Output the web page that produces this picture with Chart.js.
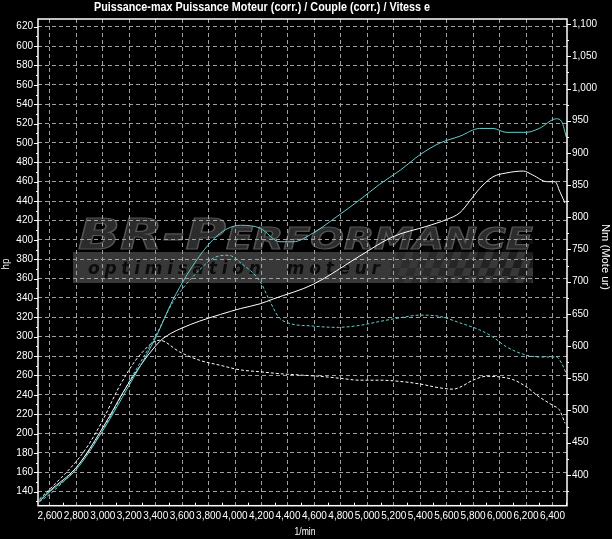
<!DOCTYPE html>
<html>
<head>
<meta charset="utf-8">
<title>Puissance / Couple</title>
<script src="https://cdn.jsdelivr.net/npm/chart.js@4.4.0/dist/chart.umd.min.js"></script>
<style>
  html, body { margin: 0; padding: 0; background: #000; }
  canvas { display: block; }
</style>
</head>
<body>
<canvas id="dynoCanvas" width="612" height="539"></canvas>
<script>
// puissance (hp) apres optimisation - cyan plein
var tunedPowerRpm = [2520, 2600, 2800, 3000, 3200, 3400, 3530, 3730, 3890, 4040, 4190, 4340, 4440, 4590, 4770, 4940, 5090, 5250, 5400, 5550, 5700, 5850, 5950, 6050, 6200, 6300, 6430, 6470, 6505];
var tunedPowerHp  = [130, 140, 163, 203, 250, 299, 338, 383, 407, 415, 412, 398, 398, 407, 424, 441, 457, 472, 488, 500, 507, 515, 515, 511, 511, 515, 525, 522, 506];

// puissance (hp) origine - blanc plein
var stockPowerRpm = [2520, 2600, 2800, 3000, 3200, 3430, 3510, 3600, 3730, 3890, 4040, 4190, 4290, 4590, 4940, 5190, 5450, 5600, 5700, 5780, 5850, 5950, 6050, 6180, 6250, 6360, 6420, 6455, 6495];
var stockPowerHp  = [130, 141, 165, 206, 253, 295, 303, 309, 316, 323, 329, 334, 339, 354, 383, 403, 414, 421, 428, 441, 453, 465, 469, 471, 467, 460, 460, 450, 438];

// couple (Nm) apres optimisation - cyan pointille
var tunedTorqueRpm = [2520, 2600, 2800, 3000, 3200, 3400, 3530, 3730, 3850, 3950, 4050, 4190, 4260, 4330, 4400, 4590, 4770, 4940, 5090, 5250, 5400, 5550, 5700, 5850, 5950, 6050, 6200, 6300, 6430, 6470, 6505];
var tunedTorqueNm  = [358, 370, 411, 470, 545, 616, 668, 718, 738, 741, 728, 700, 671, 645, 636, 631, 629, 632, 638, 644, 648, 646, 636, 625, 614, 599, 586, 583, 583, 573, 557];

// couple (Nm) origine - blanc pointille
var stockTorqueRpm = [2520, 2600, 2800, 2890, 3000, 3130, 3280, 3430, 3580, 3730, 3890, 4040, 4190, 4340, 4490, 4640, 4790, 4940, 5090, 5250, 5400, 5550, 5650, 5700, 5800, 5900, 6000, 6100, 6200, 6300, 6400, 6455, 6495];
var stockTorqueNm  = [362, 378, 421, 446, 485, 539, 586, 609, 591, 578, 570, 563, 560, 557, 555, 553, 550, 547, 547, 545, 541, 535, 533, 536, 547, 553, 552, 548, 537, 521, 508, 500, 480];

// graduations
var rpmTicks = [2600, 2800, 3000, 3200, 3400, 3600, 3800, 4000, 4200, 4400, 4600, 4800, 5000, 5200, 5400, 5600, 5800, 6000, 6200, 6400];
var hpTicks = [140, 160, 180, 200, 220, 240, 260, 280, 300, 320, 340, 360, 380, 400, 420, 440, 460, 480, 500, 520, 540, 560, 580, 600, 620];
var nmTicks = [400, 450, 500, 550, 600, 650, 700, 750, 800, 850, 900, 950, 1000, 1050, 1100];

var titleText = 'Puissance-max Puissance Moteur (corr.) / Couple (corr.) / Vitess e';
var tickFont = { family: '"Liberation Sans", Arial, sans-serif', size: 10 };

function toPoints(xs, ys) {
    return xs.map(function (x, i) { return { x: x, y: ys[i] }; });
}

function fmt(v) {
    return Number(v).toLocaleString('en-US');
}

// texte etire a une largeur donnee
function fitText(ctx, text, x, y, width, font, angle) {
    ctx.save();
    ctx.font = font;
    var w = ctx.measureText(text).width;
    ctx.translate(x, y);
    if (angle) ctx.rotate(angle);
    ctx.scale(width / w, 1);
    ctx.textAlign = 'center';
    ctx.fillText(text, 0, 0);
    ctx.restore();
}

// logo en filigrane
function drawLogo(ctx) {
    ctx.save();
    ctx.fillStyle = '#383838';
    ctx.fillRect(73, 252, 460, 31);

    // damier
    ctx.save();
    ctx.beginPath();
    ctx.rect(390, 236, 143, 47);
    ctx.clip();
    ctx.transform(1, 0, -0.35, 1, 0, 0);
    for (var r = 0; r < 6; r++) {
        for (var c = 0; c < 22; c++) {
            if ((r + c) % 2 === 0) {
                ctx.fillStyle = 'rgba(20,20,20,' + (0.2 + c * 0.03) + ')';
                ctx.fillRect(470 + c * 8, 236 + r * 8, 8, 8);
            }
        }
    }
    ctx.restore();

    // BR-Performance
    ctx.save();
    ctx.font = 'italic bold 42px "DejaVu Sans", sans-serif';
    var big = 'BR-P';
    var wBig = ctx.measureText(big).width;
    ctx.font = 'italic bold 30px "DejaVu Sans", sans-serif';
    var small = 'ERFORMANCE';
    var wSmall = ctx.measureText(small).width;
    var sx = 455 / (wBig + wSmall);
    ctx.translate(78, 249);
    ctx.scale(sx, 1);
    ctx.fillStyle = '#2c2c2c';
    ctx.strokeStyle = '#555555';
    ctx.lineWidth = 1.2;
    ctx.font = 'italic bold 42px "DejaVu Sans", sans-serif';
    ctx.fillText(big, 0, 0);
    ctx.strokeText(big, 0, 0);
    ctx.font = 'italic bold 30px "DejaVu Sans", sans-serif';
    ctx.fillText(small, wBig, 0);
    ctx.strokeText(small, wBig, 0);
    ctx.restore();

    // optimisation moteur
    ctx.font = 'italic bold 17px "DejaVu Sans", sans-serif';
    ctx.fillStyle = '#0c0c0c';
    var txt = 'optimisation  moteur';
    var total = 0;
    for (var i = 0; i < txt.length; i++) total += ctx.measureText(txt[i]).width;
    var gap = (292 - total) / (txt.length - 1);
    var px = 88;
    for (var j = 0; j < txt.length; j++) {
        ctx.fillText(txt[j], px, 274);
        px += ctx.measureText(txt[j]).width + gap;
    }
    ctx.restore();
}

var dynoPlugin = {
    id: 'dyno',
    beforeDraw: function (chart) {
        var ctx = chart.ctx;
        ctx.save();
        ctx.fillStyle = '#000';
        ctx.fillRect(0, 0, chart.width, chart.height);
        ctx.restore();
        drawLogo(ctx);
    },
    afterDraw: function (chart) {
        var ctx = chart.ctx;
        var a = chart.chartArea;
        var xs = chart.scales.x, yl = chart.scales.yHp, yr = chart.scales.yNm;
        ctx.save();
        ctx.strokeStyle = '#fff';
        ctx.lineWidth = 1;
        // petites graduations
        ctx.beginPath();
        for (var v = 130; v <= 620; v += 10) {
            var y = Math.round(yl.getPixelForValue(v)) + 0.5;
            var len = hpTicks.indexOf(v) >= 0 ? 4 : 2;
            ctx.moveTo(a.left - len, y); ctx.lineTo(a.left, y);
        }
        for (var n = 375; n <= 1100; n += 25) {
            var y2 = Math.round(yr.getPixelForValue(n)) + 0.5;
            var len2 = nmTicks.indexOf(n) >= 0 ? 4 : 2;
            ctx.moveTo(a.right, y2); ctx.lineTo(a.right + len2, y2);
        }
        for (var r = 2600; r <= 6500; r += 100) {
            var x = Math.round(xs.getPixelForValue(r)) + 0.5;
            if (rpmTicks.indexOf(r) < 0) { ctx.moveTo(x, a.bottom - 3); ctx.lineTo(x, a.bottom); }
        }
        ctx.stroke();
        // cadre
        ctx.lineWidth = 1.5;
        ctx.strokeRect(a.left, a.top, a.right - a.left, a.bottom - a.top);

        // textes
        ctx.fillStyle = '#fff';
        ctx.textBaseline = 'alphabetic';
        fitText(ctx, titleText, 262, 11, 336, 'bold 12px "Liberation Sans", Arial, sans-serif', 0);
        ctx.textBaseline = 'middle';
        fitText(ctx, 'hp', 6, 264, 11, '10px "Liberation Sans", Arial, sans-serif', -Math.PI / 2);
        fitText(ctx, 'Nm (Mote ur)', 605, 257, 66, '10px "Liberation Sans", Arial, sans-serif', Math.PI / 2);
        fitText(ctx, '1/min', 305, 532, 21, '10px "Liberation Sans", Arial, sans-serif', 0);
        ctx.restore();
    }
};

var ctx = document.getElementById('dynoCanvas').getContext('2d');
var dynoChart = new Chart(ctx, {
    type: 'line',
    data: {
        datasets: [
            {
                label: 'Puissance-max (corr.)',
                data: toPoints(tunedPowerRpm, tunedPowerHp),
                yAxisID: 'yHp',
                borderColor: '#66cccc',
                borderWidth: 1
            },
            {
                label: 'Puissance Moteur (corr.)',
                data: toPoints(stockPowerRpm, stockPowerHp),
                yAxisID: 'yHp',
                borderColor: '#ffffff',
                borderWidth: 1
            },
            {
                label: 'Couple max (corr.)',
                data: toPoints(tunedTorqueRpm, tunedTorqueNm),
                yAxisID: 'yNm',
                borderColor: '#66cccc',
                borderWidth: 1,
                borderDash: [3, 2]
            },
            {
                label: 'Couple (corr.)',
                data: toPoints(stockTorqueRpm, stockTorqueNm),
                yAxisID: 'yNm',
                borderColor: '#ffffff',
                borderWidth: 1,
                borderDash: [3, 2]
            }
        ]
    },
    options: {
        responsive: false,
        animation: false,
        devicePixelRatio: 1,
        layout: { padding: { top: 19, left: 0, right: 0, bottom: 0 } },
        elements: {
            point: { radius: 0 },
            line: { cubicInterpolationMode: 'monotone', fill: false }
        },
        plugins: {
            legend: { display: false },
            title: { display: false },
            tooltip: { enabled: false }
        },
        scales: {
            x: {
                type: 'linear',
                min: 2510,
                max: 6510,
                afterBuildTicks: function (axis) { axis.ticks = rpmTicks.map(function (v) { return { value: v }; }); },
                afterFit: function (axis) { axis.height = 33.3; },
                ticks: { color: '#fff', font: tickFont, padding: 5, maxRotation: 0, autoSkip: false, callback: fmt },
                grid: { color: '#a0a0a0', lineWidth: 1, drawTicks: false },
                border: { display: false, dash: [4, 3] }
            },
            yHp: {
                type: 'linear',
                position: 'left',
                min: 125.5,
                max: 628,
                afterBuildTicks: function (axis) { axis.ticks = hpTicks.map(function (v) { return { value: v }; }); },
                afterFit: function (axis) { axis.width = 38; },
                ticks: { color: '#fff', font: tickFont, padding: 5, autoSkip: false, callback: fmt },
                grid: { color: '#a0a0a0', lineWidth: 1, drawTicks: false },
                border: { display: false, dash: [4, 3] }
            },
            yNm: {
                type: 'linear',
                position: 'right',
                min: 352,
                max: 1108,
                afterBuildTicks: function (axis) { axis.ticks = nmTicks.map(function (v) { return { value: v }; }); },
                afterFit: function (axis) { axis.width = 45; },
                ticks: { color: '#fff', font: tickFont, padding: 5, autoSkip: false, callback: fmt },
                grid: { drawOnChartArea: false, drawTicks: false },
                border: { display: false }
            }
        }
    },
    plugins: [dynoPlugin]
});
</script>
</body>
</html>
